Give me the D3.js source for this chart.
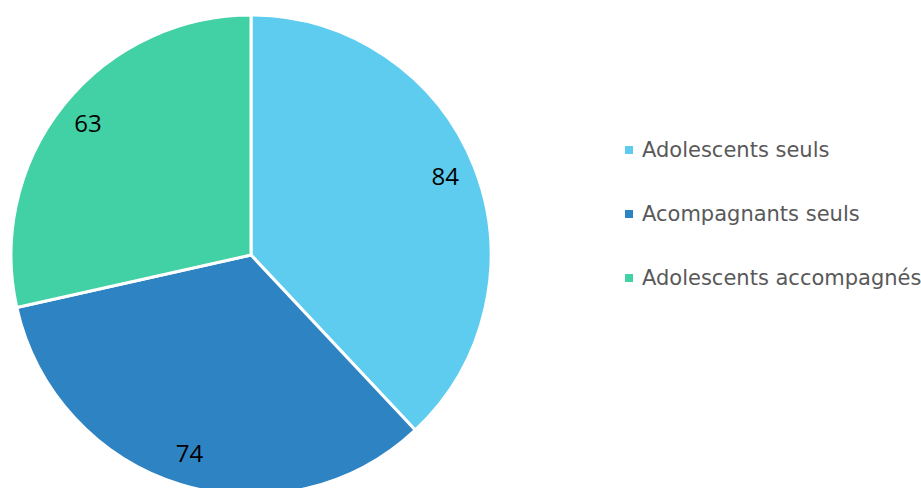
<!DOCTYPE html>
<html>
<head>
<meta charset="utf-8">
<script src="https://cdn.jsdelivr.net/npm/d3@7"></script>
<style>
	body { margin: 0; background: #fff; }
</style>
</head>
<body>
<div id="chart"></div>
<script>
const categories = ['Adolescents seuls', 'Acompagnants seuls', 'Adolescents accompagnés'];
const values = [84, 74, 63];
const colors = ['#5ECCEF', '#2E83C3', '#42D1A4'];

const width = 921;
const height = 488;
const center = { x: 251, y: 255 };
const radius = 240;

const svg = d3.select('#chart')
	.append('svg')
		.attr('width', width)
		.attr('height', height);

const data = categories.map((name, i) => ({ name, value: values[i], color: colors[i] }));

const pie = d3.pie()
	.sort(null)
	.value(d => d.value);

const arcs = pie(data);

const arcGenerator = d3.arc()
	.innerRadius(0)
	.outerRadius(radius);

const labelArc = d3.arc()
	.innerRadius(radius * 0.87)
	.outerRadius(radius * 0.87);

const bounds = svg.append('g')
	.attr('transform', `translate(${center.x}, ${center.y})`);

bounds.selectAll('path')
	.data(arcs)
	.join('path')
		.attr('d', arcGenerator)
		.attr('fill', d => d.data.color)
		.attr('stroke', '#fff')
		.attr('stroke-width', 3)
		.attr('stroke-linejoin', 'round');

bounds.selectAll('text.value')
	.data(arcs)
	.join('text')
		.attr('class', 'value')
		.attr('transform', d => `translate(${labelArc.centroid(d)})`)
		.attr('text-anchor', 'middle')
		.attr('dy', '0.3em')
		.style('font-family', '"Open Sans", sans-serif')
		.style('font-size', '24px')
		.attr('fill', '#000')
		.text(d => d.data.value);

// legend
const legend = svg.append('g')
	.attr('transform', 'translate(625, 150)');

const rows = legend.selectAll('g')
	.data(data)
	.join('g')
		.attr('transform', (d, i) => `translate(0, ${i * 64})`);

rows.append('rect')
	.attr('x', 0)
	.attr('y', -4)
	.attr('width', 8)
	.attr('height', 8)
	.attr('fill', d => d.color);

rows.append('text')
	.attr('x', 17)
	.attr('dy', '0.35em')
	.style('font-family', '"DejaVu Sans", sans-serif')
	.style('font-size', '21px')
	.attr('fill', '#595959')
	.text(d => d.name);
</script>
</body>
</html>
